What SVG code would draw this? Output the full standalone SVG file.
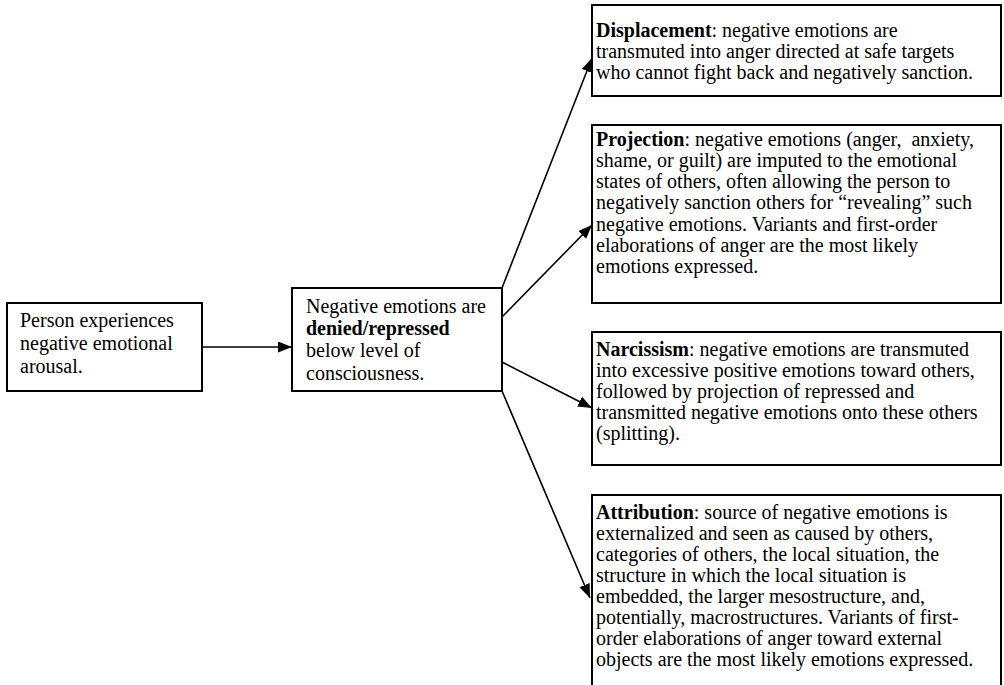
<svg xmlns="http://www.w3.org/2000/svg" width="1004" height="685" viewBox="0 0 1004 685">
<defs>
<style>
.box{fill:#fff;stroke:#000;stroke-width:2}
.t{font-size:20px;fill:#000}
.b{font-weight:bold}
.c{stroke:#000;stroke-width:1.6;fill:none}
</style>
<marker id="ah" markerUnits="userSpaceOnUse" markerWidth="15" markerHeight="12" refX="14" refY="5.5" orient="auto">
<path d="M0,0 L14,5.5 L0,11 z" fill="#000"/>
</marker>
</defs>
<rect width="1004" height="685" fill="#fff"/>
<g id="connectors">
<line class="c" x1="202" y1="347" x2="292" y2="347" marker-end="url(#ah)"/>
<line class="c" x1="502" y1="288" x2="592" y2="58" marker-end="url(#ah)"/>
<line class="c" x1="502" y1="317" x2="592" y2="225" marker-end="url(#ah)"/>
<line class="c" x1="502" y1="362" x2="592" y2="408" marker-end="url(#ah)"/>
<line class="c" x1="502" y1="391" x2="590" y2="598" marker-end="url(#ah)"/>
</g>
<g font-family="'Liberation Serif', 'DejaVu Serif', serif">
<g id="person">
<rect class="box" x="7" y="303" width="195" height="88"/>
<text class="t" font-size="19.5"><tspan x="20" y="327">Person experiences</tspan><tspan x="20" y="350">negative emotional</tspan><tspan x="20" y="373">arousal.</tspan></text>
</g>
<g id="denied">
<rect class="box" x="292" y="288" width="210" height="103"/>
<text class="t" font-size="19.5"><tspan x="306" y="313">Negative emotions are</tspan><tspan x="306" y="335" class="b">denied/repressed</tspan><tspan x="306" y="357">below level of</tspan><tspan x="306" y="380">consciousness.</tspan></text>
</g>
<g id="displacement">
<rect class="box" x="592" y="5" width="409" height="91"/>
<text class="t"><tspan x="596" y="37"><tspan class="b">Displacement</tspan>: negative emotions are</tspan><tspan x="596" y="58">transmuted into anger directed at safe targets</tspan><tspan x="596" y="79">who cannot fight back and negatively sanction.</tspan></text>
</g>
<g id="projection">
<rect class="box" x="592" y="125" width="409" height="178"/>
<text class="t"><tspan x="596" y="146"><tspan class="b">Projection</tspan>: negative emotions (anger, &#160;anxiety,</tspan><tspan x="596" y="167">shame, or guilt) are imputed to the emotional</tspan><tspan x="596" y="188">states of others, often allowing the person to</tspan><tspan x="596" y="209">negatively sanction others for “revealing” such</tspan><tspan x="596" y="231">negative emotions. Variants and first-order</tspan><tspan x="596" y="252">elaborations of anger are the most likely</tspan><tspan x="596" y="273">emotions expressed.</tspan></text>
</g>
<g id="narcissism">
<rect class="box" x="592" y="332" width="409" height="133"/>
<text class="t"><tspan x="596" y="356"><tspan class="b">Narcissism</tspan>: negative emotions are transmuted</tspan><tspan x="596" y="377">into excessive positive emotions toward others,</tspan><tspan x="596" y="398">followed by projection of repressed and</tspan><tspan x="596" y="419">transmitted negative emotions onto these others</tspan><tspan x="596" y="440">(splitting).</tspan></text>
</g>
<g id="attribution">
<rect class="box" x="592" y="495" width="409" height="210"/>
<text class="t"><tspan x="596" y="519"><tspan class="b">Attribution</tspan>: source of negative emotions is</tspan><tspan x="596" y="540">externalized and seen as caused by others,</tspan><tspan x="596" y="561">categories of others, the local situation, the</tspan><tspan x="596" y="582">structure in which the local situation is</tspan><tspan x="596" y="603">embedded, the larger mesostructure, and,</tspan><tspan x="596" y="624">potentially, macrostructures. Variants of first-</tspan><tspan x="596" y="645">order elaborations of anger toward external</tspan><tspan x="596" y="666">objects are the most likely emotions expressed.</tspan></text>
</g>
</g>
</svg>
